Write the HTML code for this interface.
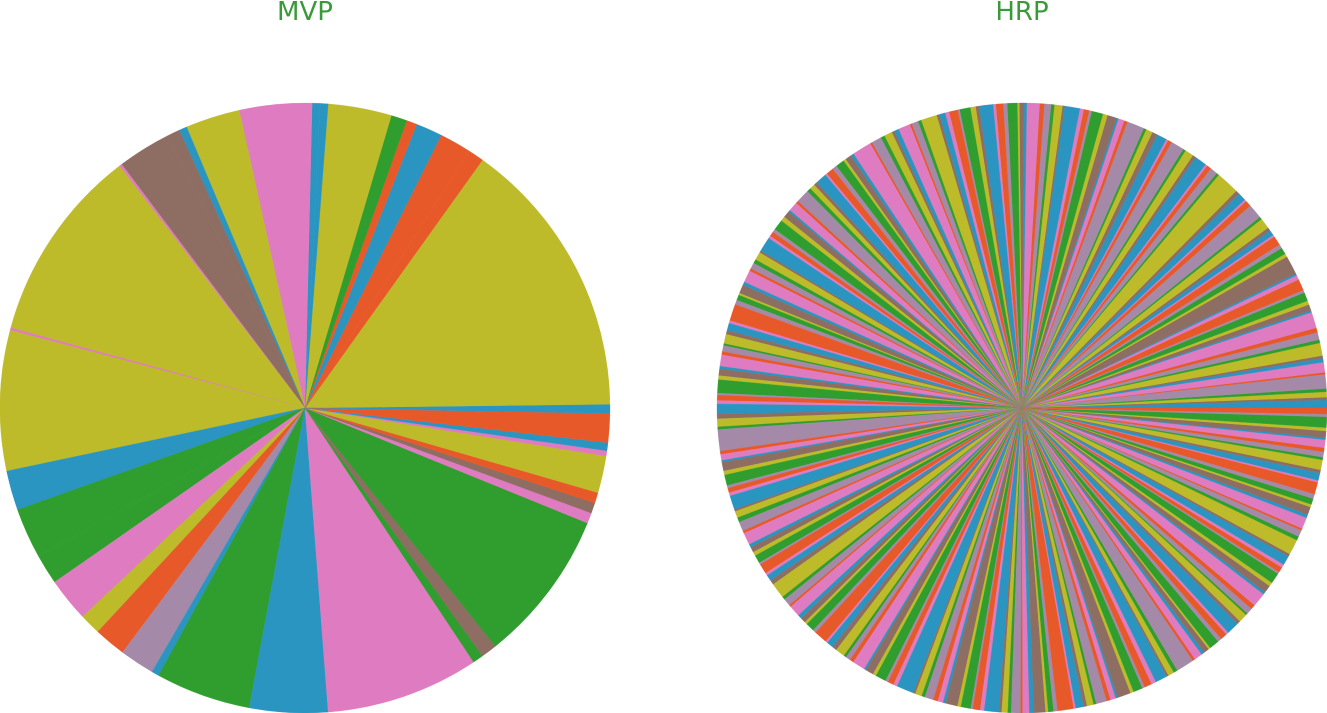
<!DOCTYPE html>
<html>
<head>
<meta charset="utf-8">
<style>
html,body{margin:0;padding:0;background:#fff;}
body{width:1327px;height:713px;overflow:hidden;position:relative;font-family:"Liberation Sans","DejaVu Sans",sans-serif;}
.title{position:absolute;top:-3px;font-size:26px;color:#3a9a3a;font-family:"DejaVu Sans","Liberation Sans",sans-serif;transform:translateX(-50%);}
svg{position:absolute;left:0;top:0;}
</style>
</head>
<body>
<div class="title" style="left:305px">MVP</div>
<div class="title" style="left:1022px">HRP</div>
<svg id="chart" width="1327" height="713"></svg>
<script>
// MVP slice weights (degrees-ish), counterclockwise from east
const mvpValues = [0.7,53.3,3,6,5,2,3,12,1.5,1.5,13.7,10.3,1.5,2.5,10,0.5,37,0.5,26.5,7.5,9.5,5.7,8.3,4,6,6.6,1.4,18,14.8,29,2,3,29,2,2,2,7,1,1.5,5.5,1];
const mvpColors = ['blue','olive','orange','orange','blue','orange','green','olive','blue','blue','pink','olive','blue','brown','brown','pink','olive','pink','olive','blue','green','green','pink','olive','orange','gray','blue','green','blue','pink','green','brown','green','pink','brown','orange','olive','pink','blue','orange','blue'];
// HRP slice weights (estimated)
const hrpValues = [
1.2,0.4,0.8,0.5,2.1,0.3,1.5,0.6,0.4,1.9,0.5,1.1,0.7,2.4,0.3,0.9,0.6,1.3,0.4,1.7,0.7,0.3,2.8,0.5,1.0,0.6,1.4,0.3,0.8,0.5,
1.6,0.4,2.2,0.9,0.3,1.2,0.6,3.5,0.4,1.1,0.7,0.3,1.8,0.5,1.3,0.4,2.0,0.6,0.3,1.5,0.8,1.0,0.4,2.6,0.5,0.9,0.3,1.4,0.7,1.7,
0.4,0.8,0.6,2.3,0.3,1.2,0.5,1.0,0.7,1.9,0.4,0.7,0.3,1.5,0.6,1.1,0.4,2.1,0.5,0.8,1.6,0.3,1.3,0.6,0.9,0.4,2.4,0.5,1.0,0.3,
1.8,0.7,0.4,1.2,0.6,1.5,0.3,2.9,0.5,0.9,0.4,1.3,0.7,1.1,0.3,1.7,0.5,0.8,0.6,2.0,0.4,1.4,0.3,1.0,0.7,1.6,0.5,0.7,0.4,2.2,
0.3,1.2,0.6,0.9,0.4,1.8,0.5,1.3,0.3,0.8,0.7,2.5,0.4,1.1,0.6,1.4,0.3,0.9,0.5,1.7,0.4,1.0,0.6,2.0,0.3,0.8,0.5,1.5,0.7,1.2,
0.4,3.2,0.5,0.9,0.3,1.3,0.6,1.6,0.4,0.7,0.5,2.1,0.3,1.0,0.7,1.4,0.4,1.8,0.5,0.8,0.6,1.2,0.3,1.5,0.4,0.9,0.7,2.3,0.5,1.1,
0.3,1.7,0.6,0.8,0.4,1.3,0.5,2.0,0.3,1.0,0.7,1.4,0.4,0.7,0.6,1.9,0.3,1.2,0.5,1.6,0.4,0.9,0.6,2.6,0.3,1.0,0.5,1.3,0.7,0.8,
0.4,1.8,0.5,1.5,0.3,1.1,0.6,2.2,0.4,0.9,0.5,1.4,0.3,1.0,0.7,1.7,0.4,0.8,0.6,2.4,0.3,1.2,0.5,1.0,0.4,1.6,0.6,0.8,0.3,2.0,
0.5,1.4,0.4,1.1,0.7,1.8,0.3,0.9,0.6,2.7,0.4,1.2,0.5,0.8,0.3,1.5,0.6,1.0,0.4,1.9,0.5,1.3,0.3,0.9,0.7,2.1,0.4,1.1,0.6,1.6,
0.3,0.8,0.5,1.4,0.4,2.3,0.6,1.0,0.3,1.7,0.5,1.2,0.4,0.9,0.7,1.8,0.3,1.1,0.5,1.5,0.4,0.8,0.6,1.2,0.3,1.0,0.5,1.6,0.4,0.9];
const hrpColorCycle = ['blue','orange','green','brown','pink','gray','olive'];
const palette = {blue:'#2b95c1',orange:'#e8592a',green:'#2f9e2e',brown:'#8e6d62',pink:'#df7bc0',gray:'#a48aa8',olive:'#bdbb29'};

const svg = document.getElementById('chart');
const NS = 'http://www.w3.org/2000/svg';
function drawPie(values, colorOf, cx, cy, r, name){
  const g = document.createElementNS(NS,'g');
  
  
  svg.appendChild(g);
  const total = values.reduce((a,b)=>a+b,0);
  let a0 = 0;
  values.forEach((v,i)=>{
    const a1 = a0 + v/total*2*Math.PI;
    const x0 = cx + r*Math.cos(a0), y0 = cy - r*Math.sin(a0);
    const x1 = cx + r*Math.cos(a1), y1 = cy - r*Math.sin(a1);
    const large = (a1-a0) > Math.PI ? 1 : 0;
    const p = document.createElementNS(NS,'path');
    p.setAttribute('d', `M${cx},${cy} L${x0},${y0} A${r},${r} 0 ${large} 0 ${x1},${y1} Z`);
    const c = palette[colorOf(i)];
    p.setAttribute('fill', c);
    p.setAttribute('stroke', c);
    p.setAttribute('stroke-width', '0.3');
    
    
    g.appendChild(p);
    a0 = a1;
  });
}
drawPie(mvpValues, i=>mvpColors[i], 305, 408, 305, 'mvp-pie');
drawPie(hrpValues, i=>hrpColorCycle[(i*3)%7], 1022, 408, 305, 'hrp-pie');
</script>
</body>
</html>
